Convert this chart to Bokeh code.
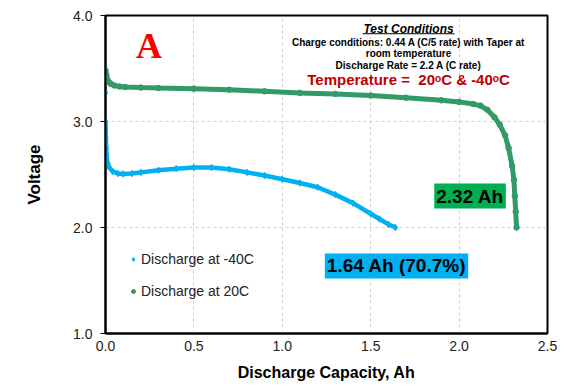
from bokeh.plotting import figure
from bokeh.models import Range1d, Label, Legend, LegendItem, FixedTicker, CustomJSTickFormatter
from bokeh.embed import file_html
from bokeh.resources import INLINE

# ---- data ----
cold_capacity = [0.0, 0.0, 0.002, 0.004, 0.006, 0.01, 0.02, 0.04, 0.07, 0.1, 0.15, 0.2, 0.3, 0.4,
                 0.5, 0.6, 0.7, 0.8, 0.9, 1.0, 1.1, 1.2, 1.3, 1.4, 1.5, 1.55, 1.6, 1.64]
cold_voltage = [3.27, 3.00, 2.85, 2.75, 2.68, 2.62, 2.57, 2.53, 2.51, 2.505, 2.51, 2.52, 2.54, 2.555,
                2.565, 2.565, 2.55, 2.52, 2.49, 2.455, 2.42, 2.38, 2.31, 2.23, 2.13, 2.08, 2.03, 2.0]

warm_capacity = [0.0, 0.005, 0.01, 0.02, 0.03, 0.05, 0.08, 0.11, 0.2, 0.3, 0.5, 0.7, 0.9, 1.1, 1.3,
                 1.5, 1.7, 1.9, 2.0, 2.08, 2.12, 2.16, 2.2, 2.23, 2.26, 2.28, 2.30, 2.31, 2.315, 2.32, 2.325]
warm_voltage = [3.48, 3.44, 3.40, 3.37, 3.355, 3.34, 3.33, 3.325, 3.32, 3.315, 3.31, 3.30, 3.285, 3.27,
                3.26, 3.245, 3.225, 3.20, 3.185, 3.165, 3.15, 3.11, 3.04, 2.97, 2.87, 2.75, 2.58, 2.45,
                2.30, 2.15, 2.0]

series_names = ["Discharge at -40C", "Discharge at 20C"]
x_ticks = [0.0, 0.5, 1.0, 1.5, 2.0, 2.5]
y_ticks = [1.0, 2.0, 3.0, 4.0]

BLUE = "#00B0F0"
GREEN = "#339966"
BOX_GREEN = "#00B050"
FONT = "Liberation Sans"

p = figure(width=564, height=386, x_range=Range1d(0, 2.5), y_range=Range1d(1, 4),
           output_backend="svg", toolbar_location=None,
           min_border_left=105, min_border_right=17, min_border_top=15, min_border_bottom=53)
p.background_fill_color = "white"
p.border_fill_color = "white"
p.outline_line_color = "black"
p.outline_line_width = 2

p.xaxis.ticker = FixedTicker(ticks=x_ticks)
p.yaxis.ticker = FixedTicker(ticks=y_ticks)
p.xaxis.formatter = CustomJSTickFormatter(code="return tick.toFixed(1);")
p.yaxis.formatter = CustomJSTickFormatter(code="return tick.toFixed(1);")

for ax in (p.xaxis[0], p.yaxis[0]):
    ax.axis_line_color = "black"
    ax.axis_line_width = 2
    ax.minor_tick_line_color = None
    ax.major_label_text_font = FONT
    ax.major_label_text_font_size = "14px"
    ax.major_label_text_color = "#222222"
    ax.axis_label_text_font = FONT
    ax.axis_label_text_font_style = "bold"
    ax.axis_label_text_color = "black"
    ax.major_tick_in = 0

p.xaxis.major_tick_out = 0
p.xaxis.major_label_standoff = 7
p.xaxis.axis_label = "Discharge Capacity, Ah"
p.xaxis.axis_label_text_font_size = "16px"
p.xaxis.axis_label_standoff = 10

p.yaxis.major_tick_out = 5
p.yaxis.major_tick_line_color = "black"
p.yaxis.major_label_standoff = 8
p.yaxis.axis_label = "Voltage"
p.yaxis.axis_label_text_font_size = "17px"
p.yaxis.axis_label_standoff = 26

p.xgrid.grid_line_color = "#d0d0d0"
p.xgrid.grid_line_dash = "3 3"
p.ygrid.grid_line_color = "#d0d0d0"
p.ygrid.grid_line_dash = "3 3"

# curves: markers under a thick line
g_pts = p.scatter(warm_capacity, warm_voltage, marker="circle", size=5.5, color=GREEN)
p.line(warm_capacity, warm_voltage, line_color=GREEN, line_width=5)
b_pts = p.scatter(cold_capacity, cold_voltage, marker="diamond", size=6.5, color=BLUE)
p.line(cold_capacity[1:], cold_voltage[1:], line_color=BLUE, line_width=4.5)

legend = Legend(items=[LegendItem(label=series_names[0], renderers=[b_pts]),
                       LegendItem(label=series_names[1], renderers=[g_pts])],
                location=(23, 32), background_fill_alpha=0, border_line_alpha=0,
                padding=0, margin=0, spacing=12, glyph_width=10, glyph_height=20,
                label_height=20, label_standoff=3, label_text_font_size="14px",
                label_text_font=FONT, label_text_color="#222222")
p.add_layout(legend)

# annotations
p.add_layout(Label(x=0.246, y=3.708, text="A", text_font="Liberation Serif", text_font_style="bold",
                   text_font_size="36px", text_color="#FF0000", text_align="center",
                   text_baseline="middle"))
p.add_layout(Label(x=1.714, y=3.877, text="Test Conditions", text_font=FONT,
                   text_font_style="bold italic", text_font_size="12px", text_color="black",
                   text_align="center", text_baseline="middle"))
p.segment(x0=[1.454], y0=[3.828], x1=[1.974], y1=[3.828], line_color="black", line_width=1)
for yy, t in [(3.745, "Charge conditions: 0.44 A (C/5 rate) with Taper at"),
              (3.642, "room temperature"),
              (3.533, "Discharge Rate = 2.2 A (C rate)")]:
    p.add_layout(Label(x=1.714, y=yy, text=t, text_font=FONT, text_font_style="bold",
                       text_font_size="10px", text_color="black", text_align="center",
                       text_baseline="middle"))
p.add_layout(Label(x=1.714, y=3.396, text="Temperature =\u00a0 20\u1d52C & -40\u1d52C", text_font=FONT,
                   text_font_style="bold", text_font_size="15px", text_color="#C00000",
                   text_align="center", text_baseline="middle"))

p.add_layout(Label(x=1.646, y=1.637, text="1.64 Ah (70.7%)", text_font=FONT, text_font_style="bold",
                   text_font_size="19px", text_color="black", text_align="center",
                   text_baseline="middle", background_fill_color=BLUE, padding=2))
p.add_layout(Label(x=2.062, y=2.297, text="2.32 Ah", text_font=FONT, text_font_style="bold",
                   text_font_size="19px", text_color="black", text_align="center",
                   text_baseline="middle", background_fill_color=BOX_GREEN, padding=2))

open("out.html", "w").write(file_html(p, INLINE))
